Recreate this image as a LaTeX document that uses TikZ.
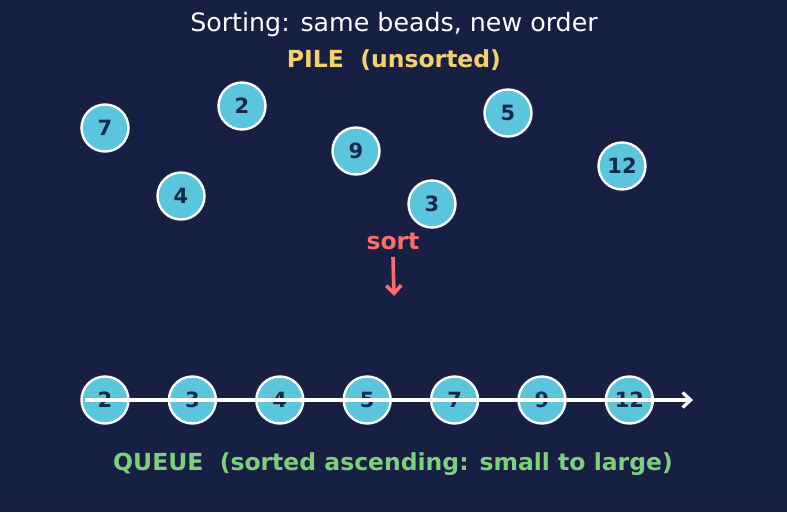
\documentclass[tikz,border=0pt]{standalone}
\usepackage{fontspec}
\setmainfont{DejaVu Sans}
\usepackage{xcolor}
\usetikzlibrary{arrows.meta, positioning}

\definecolor{bgnavy}{HTML}{172042}
\definecolor{beadblue}{HTML}{5BC5DD}
\definecolor{beadtext}{HTML}{15284A}
\definecolor{pilegold}{HTML}{F4D06F}
\definecolor{sortred}{HTML}{FF6B6B}
\definecolor{queuegreen}{HTML}{7DCF7D}

\begin{document}
\begin{tikzpicture}[
    x=1pt, y=-1pt,
    bead/.style={circle, draw=white, line width=2.4pt, fill=beadblue, minimum size=47pt, inner sep=0pt,
        text=beadtext, font=\fontsize{21}{24}\selectfont\bfseries},
    caption/.style={font=\fontsize{23.5}{28}\selectfont\bfseries},
    flowarrow/.style={line width=3.3pt, -{Straight Barb[length=8pt, width=15pt]}}
]
    % Background
    \fill[bgnavy] (0,0) rectangle (787,512);
    \useasboundingbox (0,0) rectangle (787,512);

    % Titles
    \node[text=white, font=\fontsize{25.3}{30}\selectfont] (title) at (394,25) {Sorting: same beads, new order};
    \node[caption, text=pilegold] (pile) at (394,60) {PILE\ \ (unsorted)};

    % Pile beads
    \node[bead] (p7) at (105,128) {7};
    \node[bead] (p2) at (242,106) {2};
    \node[bead] (p9) at (356,151) {9};
    \node[bead] (p5) at (508,113) {5};
    \node[bead] (p12) at (622,166) {12};
    \node[bead] (p4) at (181,196) {4};
    \node[bead] (p3) at (432,204) {3};

    % Sort step
    \node[caption, text=sortred] (sort) at (393,241) {sort};
    \coordinate (sortend) at (394,296);
    \draw[flowarrow, draw=sortred, line width=3.6pt] ([yshift=-4pt]sort.south) -- (sortend);

    % Queue beads
    \foreach \n [count=\i] in {2,3,4,5,7,9,12}
        \node[bead] (q\i) at ({105+87.4*(\i-1)},400) {\n};

    % Queue line
    \coordinate (qstart) at (85,400);
    \coordinate (qend) at (693,400);
    \draw[flowarrow, draw=white] (qstart) -- (qend);

    \node[caption, text=queuegreen] (queue) at (393,464) {QUEUE\ \ (sorted ascending: small to large)};
\end{tikzpicture}
\end{document}
